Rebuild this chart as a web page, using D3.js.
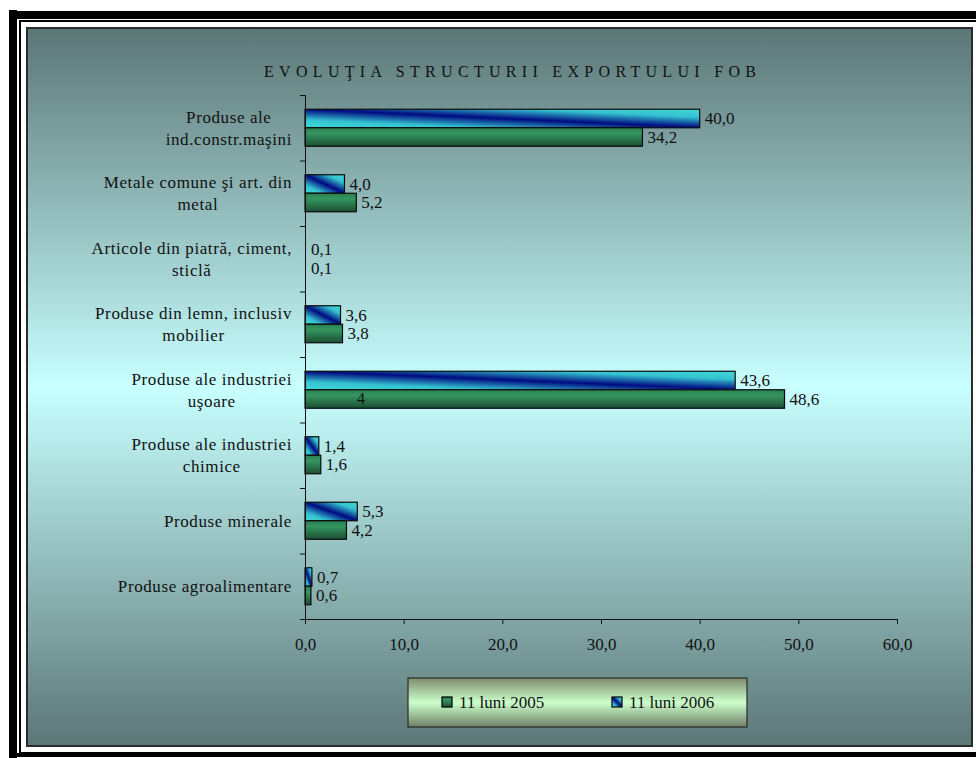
<!DOCTYPE html>
<html>
<head>
<meta charset="utf-8">
<script src="https://cdn.jsdelivr.net/npm/d3@7"></script>
<style>
body { margin: 0; background: #ffffff; }
text { font-family: "Liberation Serif", "Times New Roman", serif; fill: #111; }
</style>
</head>
<body>
<div id="chart"></div>
<script>
// date (de sus in jos)
var categories = [
	"Produse ale\nind.constr.maşini",
	"Metale comune şi art. din\nmetal",
	"Articole din piatră, ciment,\nsticlă",
	"Produse din lemn, inclusiv\nmobilier",
	"Produse ale industriei\nuşoare",
	"Produse ale industriei\nchimice",
	"Produse minerale",
	"Produse agroalimentare"
];
var series = ["11 luni 2006", "11 luni 2005"];
var values2006 = [40.0, 4.0, 0.1, 3.6, 43.6, 1.4, 5.3, 0.7];
var values2005 = [34.2, 5.2, 0.1, 3.8, 48.6, 1.6, 4.2, 0.6];
var xTicks = [0, 10, 20, 30, 40, 50, 60];
var legendOrder = ["11 luni 2005", "11 luni 2006"];
var title = "EVOLUŢIA STRUCTURII EXPORTULUI  FOB";

var W = 976, H = 758;
var svg = d3.select("#chart").append("svg").attr("width", W).attr("height", H);
var defs = svg.append("defs");

// gradient fundal (inchis sus/jos, cyan deschis la mijloc)
var bg = defs.append("linearGradient").attr("id", "bgGrad")
		.attr("x1", 0).attr("y1", 0).attr("x2", 0).attr("y2", 1);
bg.append("stop").attr("offset", "0%").attr("stop-color", "#5c7676");
bg.append("stop").attr("offset", "50%").attr("stop-color", "#c8ffff");
bg.append("stop").attr("offset", "100%").attr("stop-color", "#5c7676");

// gradient legenda
var lg = defs.append("linearGradient").attr("id", "legGrad")
		.attr("x1", 0).attr("y1", 0).attr("x2", 0).attr("y2", 1);
lg.append("stop").attr("offset", "0%").attr("stop-color", "#7d8c6e");
lg.append("stop").attr("offset", "50%").attr("stop-color", "#ccffcc");
lg.append("stop").attr("offset", "100%").attr("stop-color", "#6f7f66");

// bare verzi (2005)
var gg = defs.append("linearGradient").attr("id", "greenGrad")
		.attr("x1", 0).attr("y1", 0).attr("x2", 0).attr("y2", 1);
gg.append("stop").attr("offset", "0%").attr("stop-color", "#2b7d52");
gg.append("stop").attr("offset", "30%").attr("stop-color", "#35965f");
gg.append("stop").attr("offset", "100%").attr("stop-color", "#1c4e34");

// bare albastre (2006) - diagonal
var bgr = defs.append("linearGradient").attr("id", "blueGrad")
		.attr("x1", 0).attr("y1", 1).attr("x2", 1).attr("y2", 0);
bgr.append("stop").attr("offset", "0%").attr("stop-color", "#40d8d8");
bgr.append("stop").attr("offset", "22%").attr("stop-color", "#34c2d0");
bgr.append("stop").attr("offset", "50%").attr("stop-color", "#000a80");
bgr.append("stop").attr("offset", "78%").attr("stop-color", "#34c2d0");
bgr.append("stop").attr("offset", "100%").attr("stop-color", "#40d8d8");

// rama neagra a paginii
svg.append("rect").attr("x", 9).attr("y", 10).attr("width", 8).attr("height", H - 10).attr("fill", "#000");
svg.append("rect").attr("x", 9).attr("y", 11).attr("width", W - 9).attr("height", 8).attr("fill", "#000");
svg.append("rect").attr("x", 20).attr("y", 21).attr("width", W).attr("height", 732)
		.attr("fill", "none").attr("stroke", "#000").attr("stroke-width", 2);
svg.append("rect").attr("x", 17).attr("y", 753).attr("width", W - 17).attr("height", 4).attr("fill", "#000");

// zona graficului
svg.append("rect").attr("x", 27).attr("y", 28).attr("width", 945).attr("height", 718)
		.attr("fill", "url(#bgGrad)").attr("stroke", "#2b2b2b").attr("stroke-width", 2);

// titlu
svg.append("text").attr("x", 264).attr("y", 77)
		.attr("font-size", 16).attr("textLength", 492).attr("lengthAdjust", "spacing")
		.text(title);

// scale
var x = d3.scaleLinear().domain([0, 60]).range([305, 897]);
var y0 = d3.scaleBand().domain(categories).range([95, 619]).paddingInner(0).paddingOuter(0);
var y1 = d3.scaleBand().domain(series).range([0, y0.bandwidth()]).paddingInner(0).paddingOuter(0.77);
var yEdges = d3.scaleLinear().domain([0, categories.length]).range([95, 619]);

var rows = categories.map(function(c, i) {
	return { cat: c, v: [ { s: series[0], val: values2006[i] }, { s: series[1], val: values2005[i] } ] };
});

// bare
var groups = svg.append("g").selectAll("g").data(rows).enter().append("g")
		.attr("transform", function(d) { return "translate(0," + y0(d.cat) + ")"; });
groups.selectAll("rect").data(function(d) { return d.v; }).enter().append("rect")
		.attr("x", x(0))
		.attr("y", function(d) { return y1(d.s); })
		.attr("width", function(d) { return x(d.val) - x(0); })
		.attr("height", y1.bandwidth())
		.attr("fill", function(d) { return d.s == series[0] ? "url(#blueGrad)" : "url(#greenGrad)"; })
		.attr("stroke", "#0a0a0a").attr("stroke-width", function(d) { return d.val < 0.5 ? 0 : 1.2; });
// etichete valori
groups.selectAll("text").data(function(d) { return d.v; }).enter().append("text")
		.attr("x", function(d) { return x(d.val) + 5; })
		.attr("y", function(d) { return y1(d.s) + y1.bandwidth() / 2; })
		.attr("dy", ".35em").attr("font-size", 17)
		.text(function(d) { return d3.format(".1f")(d.val).replace(".", ","); });

// "4" ramas in bara 48,6
svg.append("text").attr("x", 361).attr("y", y0(categories[4]) + y1(series[1]) + y1.bandwidth() / 2)
		.attr("dy", ".3em").attr("font-size", 16).attr("text-anchor", "middle").text("4");

// axa Y (linie + tick-uri intre categorii)
var yAxis = svg.append("g").attr("transform", "translate(" + x(0) + ",0)")
		.call(d3.axisLeft(yEdges).ticks(categories.length).tickSize(5).tickFormat(""));
yAxis.selectAll("path,line").attr("stroke", "#111");

// etichete categorii: bloc aliniat la dreapta, randuri centrate
var labelRight = 292;
svg.append("g").selectAll("g").data(categories).enter().append("g").each(function(c) {
	var lines = c.split("\n");
	var g = d3.select(this);
	var cy = y0(c) + y0.bandwidth() / 2;
	var t = g.selectAll("text").data(lines).enter().append("text")
			.attr("font-size", 17).attr("letter-spacing", 0.6)
			.attr("text-anchor", "middle")
			.attr("y", function(d, i) { return cy + (i - (lines.length - 1) / 2) * 22; })
			.attr("dy", ".35em")
			.text(function(d) { return d; });
	var maxW = 0;
	t.each(function() { maxW = Math.max(maxW, this.getComputedTextLength()); });
	t.attr("x", labelRight - maxW / 2);
});

// axa X
var xAxis = svg.append("g").attr("transform", "translate(0,619)")
		.call(d3.axisBottom(x).tickValues(xTicks).tickSize(5).tickPadding(14)
				.tickFormat(function(d) { return d3.format(".1f")(d).replace(".", ","); }));
xAxis.selectAll("path,line").attr("stroke", "#111");
xAxis.select(".domain").attr("d", "M" + x(0) + ",0.5H" + x(60));
xAxis.selectAll("text").attr("font-size", 17)
		.attr("fill", "#111").style("font-family", "Liberation Serif, serif");

// legenda
var leg = svg.append("g");
leg.append("rect").attr("x", 408).attr("y", 678).attr("width", 339).attr("height", 49)
		.attr("fill", "url(#legGrad)").attr("stroke", "#2b2b2b").attr("stroke-width", 1.2);
var legX = [442, 612];
var items = leg.selectAll("g").data(legendOrder).enter().append("g")
		.attr("transform", function(d, i) { return "translate(" + legX[i] + ",697)"; });
items.append("rect").attr("width", 10).attr("height", 10)
		.attr("fill", function(d) { return d == series[0] ? "url(#blueGrad)" : "url(#greenGrad)"; })
		.attr("stroke", "#000").attr("stroke-width", 1.2);
items.append("text").attr("x", 17).attr("y", 5).attr("dy", ".35em")
		.attr("font-size", 17).text(function(d) { return d; });
</script>
</body>
</html>
